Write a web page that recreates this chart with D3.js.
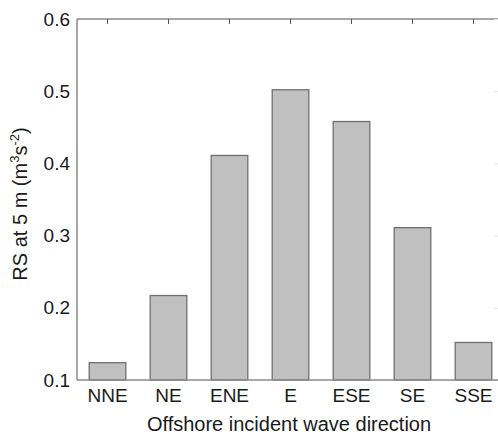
<!DOCTYPE html>
<html>
<head>
<meta charset="utf-8">
<script src="https://cdn.jsdelivr.net/npm/d3@7"></script>
<style>
  html, body { margin: 0; padding: 0; background: #fff; }
  svg { display: block; overflow: hidden; }
  text { font-family: "Liberation Sans", Arial, sans-serif; fill: #1a1a1a; }
</style>
</head>
<body>
<div id="chart"></div>
<script>
// --- Data ---
const directions = ['NNE', 'NE', 'ENE', 'E', 'ESE', 'SE', 'SSE'];
const rsValues = [0.124, 0.217, 0.411, 0.502, 0.458, 0.311, 0.152];
const yTicks = [0.1, 0.2, 0.3, 0.4, 0.5, 0.6];

// --- Layout ---
const W = 498, H = 438;
const plotL = 77, plotR = 504, plotT = 19, plotB = 380;

const svg = d3.select('#chart').append('svg').attr('width', W).attr('height', H);

const x = d3.scaleBand().domain(directions).range([plotL, plotR])
    .paddingInner(0.4).paddingOuter(0.2);
const y = d3.scaleLinear().domain([0.1, 0.6]).range([plotB, plotT]);

const axisColor = '#8a8a8a';

// bottom axis ticks (inside, hidden under bars)
svg.append('g').attr('transform', `translate(0,${plotB})`)
    .call(d3.axisTop(x).tickSize(5).tickFormat(''))
    .call(g => g.select('.domain').remove())
    .call(g => g.selectAll('line').attr('stroke', axisColor));

// bars
svg.append('g').selectAll('rect')
    .data(directions.map((d, i) => ({ dir: d, v: rsValues[i] })))
    .join('rect')
    .attr('x', d => x(d.dir))
    .attr('width', x.bandwidth())
    .attr('y', d => y(d.v))
    .attr('height', d => y(0.1) - y(d.v))
    .attr('fill', '#c0c0c0')
    .attr('stroke', '#707070')
    .attr('stroke-width', 1.3);

// top axis
svg.append('g').attr('transform', `translate(0,${plotT})`)
    .call(d3.axisBottom(x).tickSize(5).tickFormat(''))
    .call(g => g.select('.domain').attr('d', `M${plotL},0H${plotR}`).attr('stroke', axisColor).attr('stroke-width', 1.5))
    .call(g => g.selectAll('line').attr('stroke', '#555'));

// right axis (faint, mostly clipped)
svg.append('g').attr('transform', `translate(${plotR},0)`)
    .call(d3.axisLeft(y).tickValues(yTicks).tickSize(10).tickFormat(''))
    .call(g => g.select('.domain').remove())
    .call(g => g.selectAll('line').attr('stroke', '#e4e4e4'));

// left axis
svg.append('g').attr('transform', `translate(${plotL},0)`)
    .call(d3.axisLeft(y).tickValues(yTicks).tickSize(0).tickPadding(7).tickFormat(d3.format('.1f')))
    .call(g => g.select('.domain').attr('d', `M0,${plotB}V${plotT}`).attr('stroke', axisColor).attr('stroke-width', 1.5))
    .call(g => g.selectAll('text').attr('font-size', 19).attr('fill', '#1a1a1a')
        .attr('font-family', '"Liberation Sans", Arial, sans-serif'));

// bottom line
svg.append('line').attr('x1', plotL).attr('x2', plotR).attr('y1', plotB).attr('y2', plotB)
    .attr('stroke', axisColor).attr('stroke-width', 1.5);

// x tick labels
svg.append('g').selectAll('text').data(directions).join('text')
    .attr('x', d => x(d) + x.bandwidth() / 2)
    .attr('y', 402)
    .attr('text-anchor', 'middle')
    .attr('font-size', 19)
    .text(d => d);

// axis titles
svg.append('text')
    .attr('x', 289).attr('y', 431)
    .attr('text-anchor', 'middle')
    .attr('font-size', 20)
    .text('Offshore incident wave direction');

const yl = svg.append('text')
    .attr('transform', 'translate(27,204) rotate(-90)')
    .attr('text-anchor', 'middle')
    .attr('font-size', 20);
yl.append('tspan').text('RS at 5 m (m');
yl.append('tspan').attr('font-size', 13).attr('dy', -8).text('3');
yl.append('tspan').attr('dy', 8).text('s');
yl.append('tspan').attr('font-size', 13).attr('dy', -8).text('-2');
yl.append('tspan').attr('dy', 8).text(')');
</script>
</body>
</html>
